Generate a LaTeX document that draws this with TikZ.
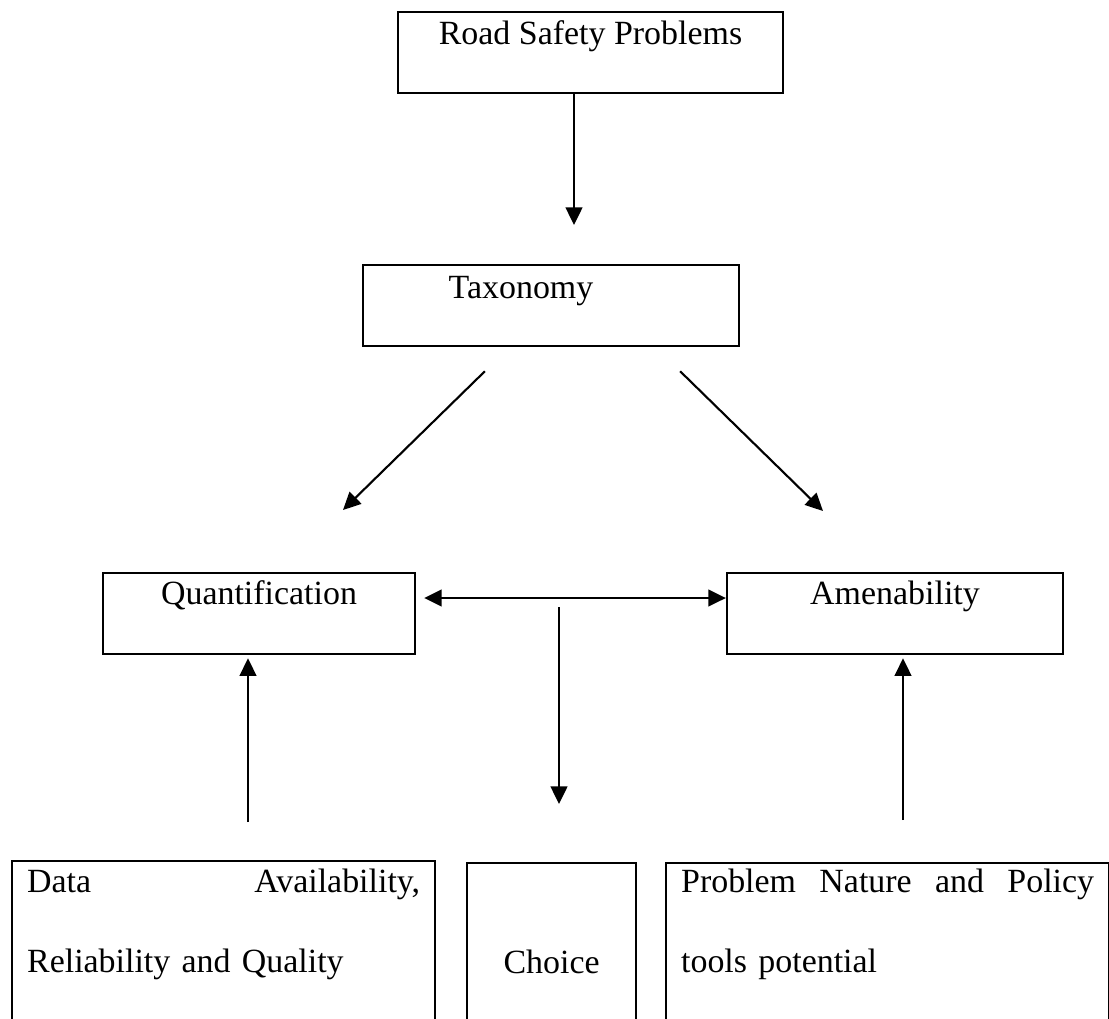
\documentclass[tikz,border=0pt]{standalone}
\usepackage{fontspec}
\setmainfont{Liberation Serif}
\usetikzlibrary{arrows.meta, positioning, calc}

\begin{document}
\begin{tikzpicture}[
  box/.style={draw, line width=1.3pt, inner sep=0pt, anchor=north,
              font=\fontsize{19.3}{45.5}\selectfont},
  lowbox/.style={box, anchor=north west, inner xsep=0.3cm, text depth=3cm},
  arr/.style={-{Triangle[length=10pt, width=9.5pt]}, line width=1.2pt},
  dbl/.style={{Triangle[length=10pt, width=9.5pt]}-{Triangle[length=10pt, width=9.5pt]},
              line width=1.4pt}
]
  \useasboundingbox (0,0) rectangle (22.18,-20.36);

  \node[box, minimum width=7.7cm, text height=0.64cm, text depth=0.98cm] (road)
    at (11.81,-0.22) {Road Safety Problems};
  \node[box, minimum width=7.52cm, text height=0.66cm, text depth=0.96cm] (tax)
    at (11.02,-5.28) {Taxonomy\rule{1.2cm}{0pt}};

  \node[box, minimum width=6.24cm, text height=0.62cm, text depth=1cm] (quant)
    at (5.18,-11.44) {Quantification};
  \node[box, minimum width=6.72cm, text height=0.62cm, text depth=1cm] (amen)
    at (17.9,-11.44) {Amenability};

  \node[lowbox, text width=7.86cm, align=left, text height=0.62cm] (data)
    at (0.22,-17.2) {Data\hfill Availability,\\Reliability and Quality};
  \node[lowbox, text width=2.78cm, align=center, text height=2.2cm] (choice)
    at (9.32,-17.24) {Choice};
  \node[lowbox, text width=8.26cm, align=left, text height=0.58cm] (pol)
    at (13.3,-17.24) {Problem\hfill Nature\hfill and\hfill Policy\\tools potential};

  \coordinate (c1) at (11.48,-4.5);
  \coordinate (tq1) at ($(tax.south west)+(2.46,-0.48)$);
  \coordinate (tq2) at ($(quant.north)+(1.68,1.24)$);
  \coordinate (ta1) at ($(tax.south east)+(-1.2,-0.48)$);
  \coordinate (ta2) at ($(amen.north)+(-1.44,1.22)$);
  \coordinate (qa) at ($(quant.north east)+(0.16,-0.52)$);
  \coordinate (c5) at (11.18,-12.14);
  \coordinate (c6) at (4.96,-16.44);
  \coordinate (c7) at (18.06,-16.4);

  \draw[arr] (c1 |- road.south) -- (c1);
  \draw[arr] (tq1) -- (tq2);
  \draw[arr] (ta1) -- (ta2);
  \draw[dbl] (qa) -- (qa -| amen.west);
  \draw[arr, shorten >=1.16cm] (c5) -- (c5 |- choice.north);
  \draw[arr, shorten >=0.06cm] (c6) -- (c6 |- quant.south);
  \draw[arr, shorten >=0.06cm] (c7) -- (c7 |- amen.south);
\end{tikzpicture}
\end{document}
